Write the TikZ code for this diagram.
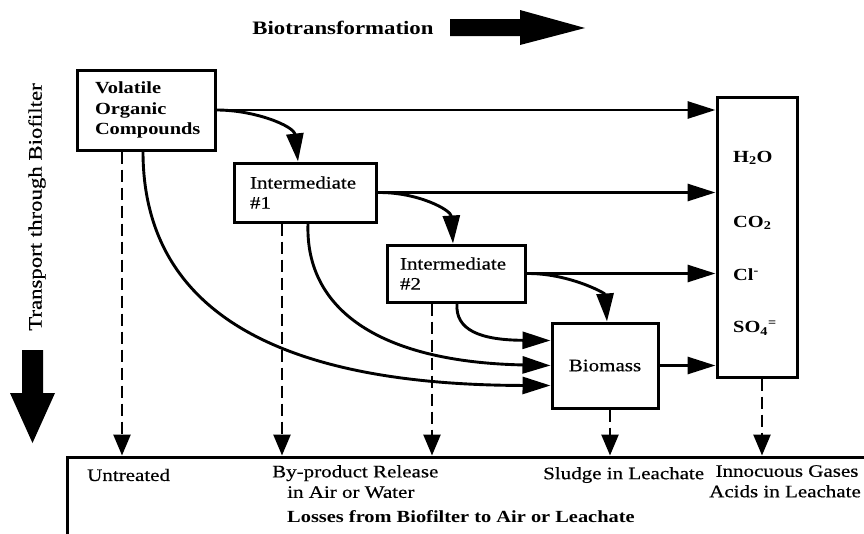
\documentclass[tikz,border=0pt]{standalone}
\usepackage{fontspec}
\setmainfont{Liberation Serif}[FakeStretch=1.2,UprightFeatures={FakeBold=0.5}]
\usetikzlibrary{arrows.meta,calc}
\begin{document}
\begin{tikzpicture}[x=1pt,y=-1pt,
  box/.style={draw,line width=3pt,inner sep=0pt},
  flow/.style={line width=2.9pt,-{Triangle[length=28pt,width=17pt]}},
  loss/.style={line width=2.6pt,dash pattern=on 12pt off 6pt,-{Triangle[length=21pt,width=17pt]}},
  txt/.style={inner sep=0pt,font=\fontsize{17.5}{20.5}\selectfont},
  btxt/.style={inner sep=0pt,font=\fontsize{17}{20.5}\selectfont\bfseries},
  chem/.style={inner sep=0pt,anchor=west,font=\fontsize{17}{20}\selectfont\bfseries},
  blockarrow/.style={fill=black}
]
\useasboundingbox (0,0) rectangle (864,533);

% title and block arrows
\node[inner sep=0pt,font=\fontsize{19}{22}\selectfont\bfseries] (title) at (343,28) {Biotransformation};
\fill[blockarrow] (450,19) -- (520,19) -- (520,10) -- (585,28) -- (520,45) -- (520,36) -- (450,36) -- cycle;
\node[inner sep=0pt,rotate=90,font=\fontsize{19}{22}\selectfont] (transport) at (37,207) {Transport through Biofilter};
\fill[blockarrow] (22,350) -- (43,350) -- (43,393) -- (55,393) -- (32.5,443) -- (10,393) -- (22,393) -- cycle;

% boxes
\node[box,minimum width=138pt,minimum height=80pt,text width=102pt,align=left,font=\fontsize{17}{20.5}\selectfont\bfseries] (voc) at (146,110) {Volatile\\Organic\\Compounds};
\node[box,minimum width=142pt,minimum height=59pt,text width=110pt,align=left,font=\fontsize{17.5}{20}\selectfont] (int1) at (305,192.5) {Intermediate\\\#1};
\node[box,minimum width=138pt,minimum height=57pt,text width=112pt,align=left,font=\fontsize{17.5}{20}\selectfont] (int2) at (456,273.5) {Intermediate\\\#2};
\node[box,minimum width=106pt,minimum height=85pt,font=\fontsize{17.5}{20}\selectfont] (bio) at (605,365.5) {Biomass};
\node[box,minimum width=80pt,minimum height=280pt] (rbox) at (757,237) {};
\node[box,minimum width=813pt,minimum height=88pt] (bottom) at (473.5,501) {};

% chemical products
\node[chem] (h2o) at (733,158) {H\textsubscript{2}O};
\node[chem] (co2) at (733,223) {CO\textsubscript{2}};
\node[chem] (cl) at (733,275) {Cl\textsuperscript{-}};
\node[chem] (so4) at (733,328) {SO\textsubscript{4}\textsuperscript{=}};

% bottom texts
\node[txt,anchor=west] (untreated) at (87,475) {Untreated};
\node[txt,anchor=north west,align=left] (byprod) at (272,465) {By-product Release\\\hspace*{15pt}in Air or Water};
\node[btxt,anchor=west] (losses) at (287,517) {Losses from Biofilter to Air or Leachate};
\node[txt,anchor=west] (sludge) at (543,475) {Sludge in Leachate};
\node[txt,anchor=north,align=center] (gases) at (785,465) {\hspace*{4pt}Innocuous Gases\\Acids in Leachate};

% straight flows to products
\draw[flow] (voc.east) -- (rbox.west |- voc.east);
\draw[flow] (int1.east) -- (rbox.west |- int1.east);
\draw[flow] (int2.east) -- (rbox.west |- int2.east);
\draw[flow] (bio.east) -- (rbox.west |- bio.east);

% curved flows
\coordinate (i1top) at ($(int1.north)+(-7,0)$);
\coordinate (i2top) at ($(int2.north)+(-3,0)$);
\coordinate (biotop) at ($(bio.north)+(2,0)$);
\draw[flow] (voc.east) .. controls (255,110) and (294,126) .. (i1top);
\draw[flow] (int1.east) .. controls (418,192) and (451,210) .. (i2top);
\draw[flow] (int2.east) .. controls (568,273) and (605,293) .. (biotop);

\coordinate (vocb) at ($(voc.south)+(-3,0)$);
\coordinate (i1b) at ($(int1.south)+(3,0)$);
\coordinate (i2b) at ($(int2.south)+(1,0)$);
\coordinate (bioA) at ($(bio.west)+(0,-25)$);
\coordinate (bioB) at (bio.west);
\coordinate (bioC) at ($(bio.west)+(0,20)$);
\draw[flow] (i2b) .. controls (455,330) and (480,340) .. (bioA);
\draw[flow] (i1b) .. controls (305,310) and (380,362) .. (bioB);
\draw[flow] (vocb) .. controls (143,300) and (260,385) .. (bioC);

% losses (dashed)
\coordinate (vocd) at ($(voc.south)+(-24,0)$);
\coordinate (i1d) at ($(int1.south)+(-23,0)$);
\coordinate (i2d) at ($(int2.south)+(-24,0)$);
\coordinate (biod) at ($(bio.south)+(5,0)$);
\coordinate (rboxd) at ($(rbox.south)+(5,0)$);
\draw[loss] (vocd) -- (vocd |- bottom.north);
\draw[loss] (i1d) -- (i1d |- bottom.north);
\draw[loss] (i2d) -- (i2d |- bottom.north);
\draw[loss] (biod) -- (biod |- bottom.north);
\draw[loss] (rboxd) -- (rboxd |- bottom.north);
\end{tikzpicture}
\end{document}
